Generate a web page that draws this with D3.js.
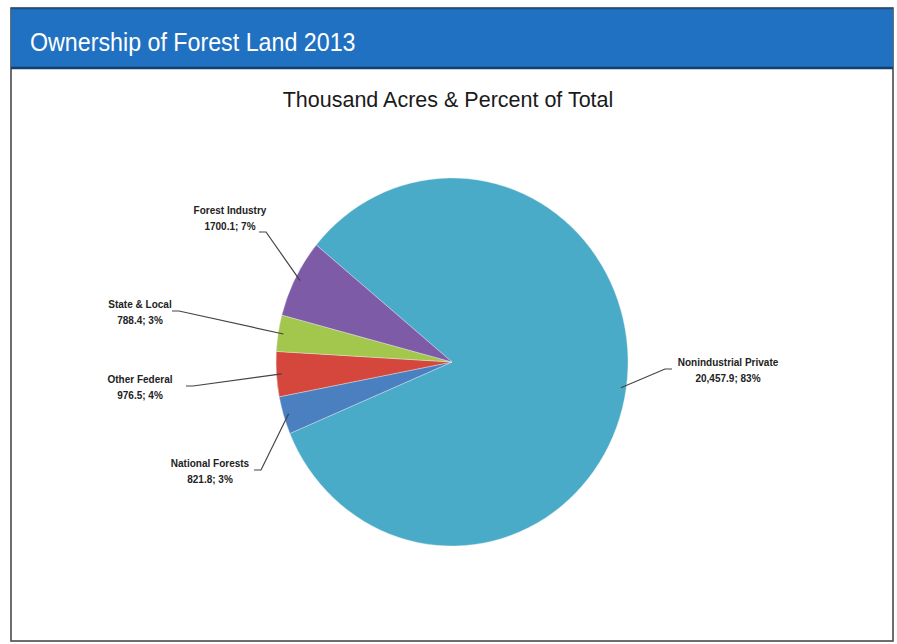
<!DOCTYPE html>
<html>
<head>
<meta charset="utf-8">
<script src="https://cdn.jsdelivr.net/npm/d3@7"></script>
<style>
  html, body { margin: 0; padding: 0; background: #ffffff; }
  svg { display: block; }
</style>
</head>
<body>
<svg id="chart" width="897" height="644"></svg>
<script>
// ---- data ----
const title = "Ownership of Forest Land 2013";
const subtitle = "Thousand Acres & Percent of Total";
const categories = ["Nonindustrial Private", "National Forests", "Other Federal", "State & Local", "Forest Industry"];
const values = [20457.9, 821.8, 976.5, 788.4, 1700.1];
const valueLabels = ["20,457.9", "821.8", "976.5", "788.4", "1700.1"];
const colors = ["#4aabc8", "#4a7fc0", "#d5463d", "#a3c64c", "#7d5ba7"];

// ---- layout (label anchor positions, not data) ----
const labelPos = [
  { x: 728, y: 366, hook: [672, 369] },
  { x: 210, y: 467, hook: [254, 470] },
  { x: 140, y: 383, hook: [186, 386] },
  { x: 140, y: 308, hook: [172, 311] },
  { x: 230, y: 214, hook: [259, 232] }
];

const svg = d3.select("#chart");

// panel frame
svg.append("rect").attr("x", 11).attr("y", 8).attr("width", 882).attr("height", 633)
  .attr("fill", "#ffffff").attr("stroke", "#4a4a4a").attr("stroke-width", 1.6);
svg.append("rect").attr("x", 11).attr("y", 8).attr("width", 882).attr("height", 60)
  .attr("fill", "#2071c1");
svg.append("line").attr("x1", 11).attr("x2", 893).attr("y1", 8.5).attr("y2", 8.5)
  .attr("stroke", "#1a4f88").attr("stroke-width", 1.5);
svg.append("line").attr("x1", 11).attr("x2", 893).attr("y1", 68).attr("y2", 68)
  .attr("stroke", "#123f70").attr("stroke-width", 2.5);

svg.append("text")
  .attr("transform", "translate(30,51) scale(0.93,1)")
  .attr("fill", "#ffffff")
  .style("font-family", "'Liberation Sans Narrow', 'Liberation Sans', Arial, sans-serif")
  .style("font-size", "25px")
  .text(title);

svg.append("text")
  .attr("transform", "translate(448,107)")
  .attr("text-anchor", "middle").attr("fill", "#1a1a1a")
  .style("font-family", "'Liberation Sans', Arial, sans-serif")
  .style("font-size", "21.5px")
  .text(subtitle);

// pie
const cx = 452, cy = 362, ry = 184, rx = 176;
const total = d3.sum(values);
const startA = 309.5 * Math.PI / 180;
const pie = d3.pie().sort(null).value(d => d.v).startAngle(startA).endAngle(startA + 2 * Math.PI);
const data = categories.map((c, i) => ({ c, v: values[i], lab: valueLabels[i], i }));
const arcs = pie(data);
const arc = d3.arc().innerRadius(0).outerRadius(ry);

const g = svg.append("g").attr("transform", `translate(${cx},${cy}) scale(${rx / ry},1)`);
g.selectAll("path").data(arcs).enter().append("path")
  .attr("d", arc)
  .attr("fill", d => colors[d.data.i])
  .attr("stroke", "#e8eef2").attr("stroke-width", 0.4);

// labels with leader lines
const lbl = svg.append("g")
  .style("font-family", "'Liberation Sans', Arial, sans-serif")
  .style("font-size", "10px").style("font-weight", "bold").attr("fill", "#222");

arcs.forEach(d => {
  const p = labelPos[d.data.i];
  const mid = (d.startAngle + d.endAngle) / 2;
  const ex = cx + Math.sin(mid) * rx * 0.97;
  const ey = cy - Math.cos(mid) * ry * 0.97;
  const pct = Math.round(d.data.v / total * 100);
  lbl.append("text").attr("x", p.x).attr("y", p.y).attr("text-anchor", "middle").text(d.data.c);
  lbl.append("text").attr("x", p.x).attr("y", p.y + 16).attr("text-anchor", "middle").text(`${d.data.lab}; ${pct}%`);
  const dir = ex > p.hook[0] ? 1 : -1;
  svg.append("path")
    .attr("d", `M${p.hook[0]},${p.hook[1]} L${p.hook[0] + dir * 7},${p.hook[1]} L${ex},${ey}`)
    .attr("fill", "none").attr("stroke", "#444").attr("stroke-width", 1.2);
});
</script>
</body>
</html>
